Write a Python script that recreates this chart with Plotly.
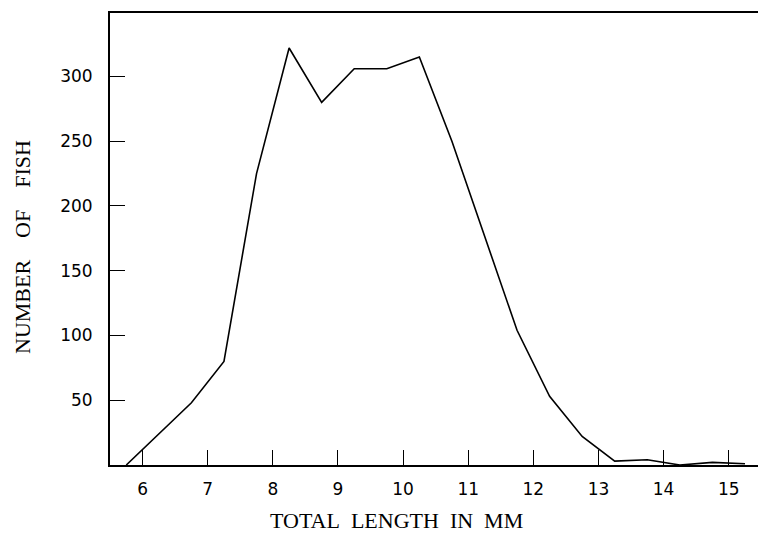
import plotly.graph_objects as go

length_mm = [5.75, 6.25, 6.75, 7.25, 7.75, 8.25, 8.75, 9.25, 9.75, 10.25,
             10.75, 11.25, 11.75, 12.25, 12.75, 13.25, 13.75, 14.25, 14.75, 15.25]
num_fish = [0, 24, 48, 80, 225, 322, 280, 306, 306, 315,
            250, 177, 104, 53, 22, 3, 4, 0, 2, 1]
x_ticks = [6, 7, 8, 9, 10, 11, 12, 13, 14, 15]
y_ticks = [50, 100, 150, 200, 250, 300]

fig = go.Figure()
fig.add_trace(go.Scatter(x=length_mm, y=num_fish, mode="lines",
                         line=dict(color="black", width=1.6), showlegend=False))

fig.update_layout(
    width=758, height=535,
    margin=dict(l=110, r=0, t=13, b=70),
    plot_bgcolor="white", paper_bgcolor="white",
    font=dict(family="DejaVu Sans", size=17, color="black"),
)
fig.update_xaxes(range=[5.5, 15.45], tickvals=x_ticks, ticktext=[str(v) for v in x_ticks],
                 ticks="inside", ticklen=15, tickwidth=1.2, tickcolor="black",
                 showline=True, linecolor="black", linewidth=2, mirror=True,
                 showgrid=False, zeroline=False, ticklabelstandoff=8)
fig.update_yaxes(range=[0, 349], tickvals=y_ticks, ticktext=[str(v) for v in y_ticks],
                 ticks="inside", ticklen=15, tickwidth=1.2, tickcolor="black",
                 showline=True, linecolor="black", linewidth=2,
                 showgrid=False, zeroline=False, ticklabelstandoff=12)

sp2 = "&nbsp;&nbsp;"
sp4 = "&nbsp;&nbsp;&nbsp;&nbsp;"
fig.add_annotation(text=f"TOTAL{sp2}LENGTH{sp2}IN{sp2}MM", xref="paper", yref="paper",
                   x=(396 - 110) / 648, y=-55 / 452, xanchor="center", yanchor="middle",
                   showarrow=False, font=dict(family="Liberation Serif", size=22))
fig.add_annotation(text=f"NUMBER{sp4}OF{sp4}FISH", xref="paper", yref="paper",
                   x=(22 - 110) / 648, y=(465 - 247) / 452, xanchor="center", yanchor="middle",
                   textangle=-90, showarrow=False, font=dict(family="Liberation Serif", size=22))

fig.write_html("out.html", config={"displayModeBar": False},
               post_script="document.body.style.margin='0';document.body.style.overflow='hidden';")
